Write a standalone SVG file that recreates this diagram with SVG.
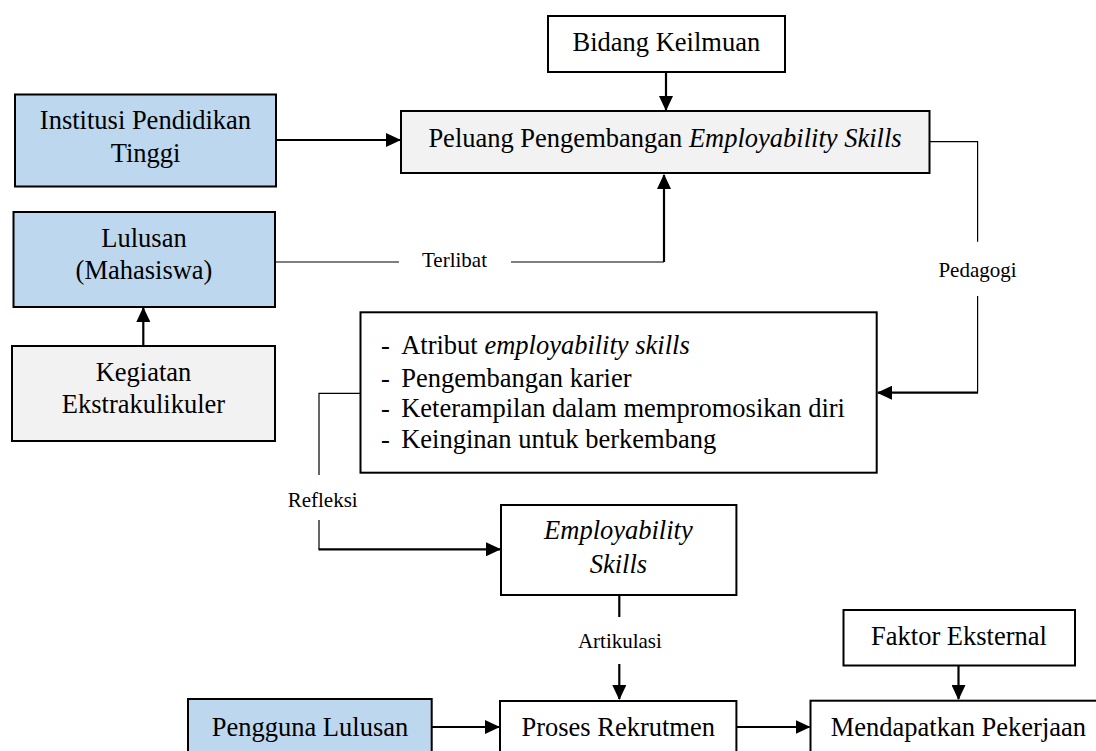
<svg xmlns="http://www.w3.org/2000/svg" width="1096" height="751" viewBox="0 0 1096 751">
<style>
  .box { stroke: #000; stroke-width: 2; }
  .white { fill: #ffffff; }
  .grey { fill: #f2f2f2; }
  .blue { fill: #bdd7ee; }
  .t { font-family: "Liberation Serif", "Times New Roman", serif; font-size: 26.5px; fill: #000; }
  .c { text-anchor: middle; }
  .lbl { font-family: "Liberation Serif", "Times New Roman", serif; font-size: 21px; fill: #000; text-anchor: middle; }
  .thin { fill: none; stroke: #000; stroke-width: 1.2; }
  .thick { fill: none; stroke: #000; stroke-width: 2.2; }
  .arr { marker-end: url(#ah); }
</style>
<defs>
  <marker id="ah" markerUnits="userSpaceOnUse" viewBox="0 0 15 14" markerWidth="15" markerHeight="14" refX="14" refY="7" orient="auto">
    <path d="M0,0 L15,7 L0,14 Z" fill="#000"/>
  </marker>
</defs>
<rect width="1096" height="751" fill="#ffffff"/>

<g id="connectors">
  <path class="thick arr" d="M666,72 V110"/>
  <path class="thick arr" d="M276,140 H400"/>
  <path class="thin" d="M275,262 H399"/>
  <path class="thin" d="M511,262 H664"/>
  <path class="thick arr" d="M664,262 V175"/>
  <path class="thin" d="M929.5,141.7 H977.6 V241.7"/>
  <path class="thin" d="M977.6,296 V392.7"/>
  <path class="thick arr" d="M978,392.7 H878"/>
  <path class="thin" d="M360.5,393.3 H319 V475"/>
  <path class="thin" d="M319,520 V549.3"/>
  <path class="thick arr" d="M318.5,549.3 H500"/>
  <path class="thick" d="M619.3,595 V617"/>
  <path class="thick arr" d="M619.3,664 V699"/>
  <path class="thick arr" d="M958.5,665.5 V699"/>
  <path class="thick arr" d="M143.3,346 V308"/>
  <path class="thick arr" d="M431.7,727 H499"/>
  <path class="thick arr" d="M736.4,727 H809.5"/>
  <text class="lbl" x="454.5" y="267">Terlibat</text>
  <text class="lbl" x="977.5" y="276.7">Pedagogi</text>
  <text class="lbl" x="322.7" y="506.7">Refleksi</text>
  <text class="lbl" x="619.9" y="648.3">Artikulasi</text>
</g>

<g id="node-bidang">
  <rect class="box white" x="548" y="16" width="237" height="56"/>
  <text class="t c" x="666.4" y="50.7">Bidang Keilmuan</text>
</g>
<g id="node-institusi">
  <rect class="box blue" x="15" y="94.5" width="261" height="92"/>
  <text class="t c" x="145.5" y="129.3">Institusi Pendidikan</text>
  <text class="t c" x="145.5" y="162.3">Tinggi</text>
</g>
<g id="node-peluang">
  <rect class="box grey" x="401" y="111" width="528.5" height="62"/>
  <text class="t c" x="665" y="146.7">Peluang Pengembangan <tspan font-style="italic">Employability Skills</tspan></text>
</g>
<g id="node-lulusan">
  <rect class="box blue" x="13.5" y="212" width="261.5" height="95"/>
  <text class="t c" x="144" y="246.7">Lulusan</text>
  <text class="t c" x="144" y="279">(Mahasiswa)</text>
</g>
<g id="node-kegiatan">
  <rect class="box grey" x="12" y="346" width="263" height="95"/>
  <text class="t c" x="143.5" y="380.7">Kegiatan</text>
  <text class="t c" x="143.5" y="413">Ekstrakulikuler</text>
</g>
<g id="node-atribut">
  <rect class="box white" x="360.5" y="312.3" width="516.2" height="160.4"/>
  <text class="t" x="381" y="354">-</text>
  <text class="t" x="401.2" y="354">Atribut <tspan font-style="italic">employability skills</tspan></text>
  <text class="t" x="381" y="386.7">-</text>
  <text class="t" x="401.2" y="386.7">Pengembangan karier</text>
  <text class="t" x="381" y="417.3">-</text>
  <text class="t" x="401.2" y="417.3">Keterampilan dalam mempromosikan diri</text>
  <text class="t" x="381" y="447.7">-</text>
  <text class="t" x="401.2" y="447.7">Keinginan untuk berkembang</text>
</g>
<g id="node-employability">
  <rect class="box white" x="501" y="505" width="235.4" height="90"/>
  <text class="t c" x="618.4" y="539.3" font-style="italic">Employability</text>
  <text class="t c" x="618.4" y="572.7" font-style="italic">Skills</text>
</g>
<g id="node-faktor">
  <rect class="box white" x="843.5" y="610" width="231.5" height="55.5"/>
  <text class="t c" x="959" y="645">Faktor Eksternal</text>
</g>
<g id="node-pengguna">
  <rect class="box blue" x="188" y="699" width="243.7" height="70"/>
  <text class="t c" x="310" y="735.5">Pengguna Lulusan</text>
</g>
<g id="node-proses">
  <rect class="box white" x="500" y="701" width="236.4" height="70"/>
  <text class="t c" x="618.2" y="736">Proses Rekrutmen</text>
</g>
<g id="node-mendapatkan">
  <rect class="box white" x="810.5" y="700.7" width="300" height="70"/>
  <text class="t c" x="958.4" y="736">Mendapatkan Pekerjaan</text>
</g>
</svg>
